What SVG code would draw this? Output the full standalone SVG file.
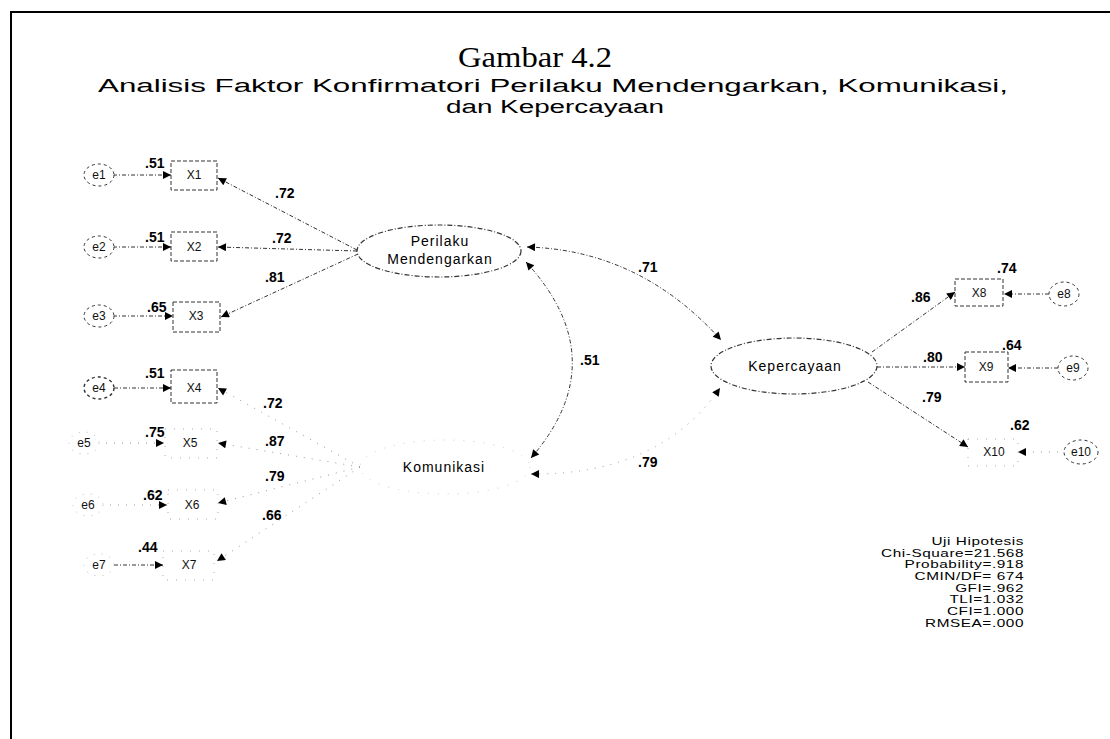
<svg xmlns="http://www.w3.org/2000/svg" width="1110" height="739" viewBox="0 0 1110 739">
  <defs>
    <marker id="ah" viewBox="0 0 10 10" refX="10" refY="5" markerWidth="11" markerHeight="8" markerUnits="userSpaceOnUse" orient="auto">
      <path d="M0,0 L10,5 L0,10 z" fill="#000"/>
    </marker>
    <marker id="ahs" viewBox="0 0 10 10" refX="10" refY="5" markerWidth="11" markerHeight="8" markerUnits="userSpaceOnUse" orient="auto-start-reverse">
      <path d="M0,0 L10,5 L0,10 z" fill="#000"/>
    </marker>
    <style>
      .frame { stroke:#000; stroke-width:2; fill:none; }
      .ln { stroke:#333; stroke-width:1; fill:none; stroke-dasharray:4 2 1 2; }
      .fl { stroke:#999; stroke-width:1; fill:none; stroke-dasharray:1 7; }
      .box { stroke:#333; stroke-width:1; fill:#fff; stroke-dasharray:4 2; }
      .fbox { stroke:#aaa; stroke-width:1; fill:#fff; stroke-dasharray:1 8; }
      .err { stroke:#333; stroke-width:1; fill:#fff; stroke-dasharray:3 3; }
      .ferr { stroke:#bbb; stroke-width:1; fill:#fff; stroke-dasharray:1 7; }
      .lat { stroke:#333; stroke-width:1.2; fill:#fff; stroke-dasharray:5 2 1 2; }
      .flat { stroke:#ccc; stroke-width:1; fill:#fff; stroke-dasharray:1 9; }
      .lbl { font-family:"Liberation Sans", Arial, sans-serif; font-size:12px; fill:#111; text-anchor:middle; }
      .wt { font-family:"Liberation Sans", Arial, sans-serif; font-size:14px; font-weight:bold; fill:#000; }
      .lv { font-family:"Liberation Sans", Arial, sans-serif; font-size:14px; fill:#000; text-anchor:middle; letter-spacing:1px; }
      .st { font-family:"Liberation Sans", Arial, sans-serif; font-size:10.8px; fill:#000; text-anchor:end; letter-spacing:0.4px; }
      .ttl { font-family:"Liberation Serif", "Times New Roman", serif; font-size:29px; fill:#000; }
      .sub { font-family:"Liberation Sans", Arial, sans-serif; font-size:18px; fill:#000; }
    </style>
  </defs>

  <rect width="1110" height="739" fill="#fff"/>

  <!-- page frame (top and left edges) -->
  <path class="frame" d="M10,12 H1110 M11,12 V739"/>

  <!-- headings -->
  <text class="ttl" x="458" y="67" textLength="154" lengthAdjust="spacingAndGlyphs">Gambar 4.2</text>
  <text class="sub" x="98" y="92" textLength="910" lengthAdjust="spacingAndGlyphs">Analisis Faktor Konfirmatori Perilaku Mendengarkan, Komunikasi,</text>
  <text class="sub" x="446" y="113" textLength="218" lengthAdjust="spacingAndGlyphs">dan Kepercayaan</text>

  <!-- connectors -->
  <g id="connectors">
    <!-- error terms to indicators -->
    <path class="ln" d="M113,175 H171" marker-end="url(#ah)"/>
    <path class="ln" d="M113,247 H171" marker-end="url(#ah)"/>
    <path class="ln" d="M113,316 H173" marker-end="url(#ah)"/>
    <path class="ln" d="M114,388 H171" marker-end="url(#ah)"/>
    <path class="fl" d="M98,443 H164" marker-end="url(#ah)"/>
    <path class="fl" d="M102,505 H167" marker-end="url(#ah)"/>
    <path class="ln" d="M114,565 H163" marker-end="url(#ah)"/>
    <path class="ln" d="M1049,294 H1004" marker-end="url(#ah)"/>
    <path class="ln" d="M1058,368 H1008" marker-end="url(#ah)"/>
    <path class="fl" d="M1066,452 H1018" marker-end="url(#ah)"/>

    <!-- Perilaku Mendengarkan loadings -->
    <path class="ln" d="M357,250 L218,178" marker-end="url(#ah)"/>
    <path class="ln" d="M357,251 L218,247" marker-end="url(#ah)"/>
    <path class="ln" d="M358,254 L221,317" marker-end="url(#ah)"/>

    <!-- Komunikasi loadings -->
    <path class="fl" d="M360,467 L218,388" marker-end="url(#ah)"/>
    <path class="fl" d="M360,467 L218,443" marker-end="url(#ah)"/>
    <path class="fl" d="M360,467 L218,503" marker-end="url(#ah)"/>
    <path class="fl" d="M360,467 L217,561" marker-end="url(#ah)"/>

    <!-- Kepercayaan loadings -->
    <path class="ln" d="M872,352 L955,292" marker-end="url(#ah)"/>
    <path class="ln" d="M877,367 H965" marker-end="url(#ah)"/>
    <path class="ln" d="M868,382 L968,447" marker-end="url(#ah)"/>

    <!-- covariances -->
    <path class="ln" d="M527,247 Q640,250 721,340" marker-start="url(#ahs)" marker-end="url(#ahs)"/>
    <path class="ln" d="M526,262 Q616,360 531,458" marker-start="url(#ahs)" marker-end="url(#ahs)"/>
    <path class="fl" d="M531,474 Q660,475 720,388" marker-start="url(#ahs)" marker-end="url(#ahs)"/>
  </g>

  <!-- error terms -->
  <g id="e1"><ellipse class="err" cx="99" cy="175" rx="15" ry="11"/><text class="lbl" x="99" y="179">e1</text></g>
  <g id="e2"><ellipse class="err" cx="99" cy="247" rx="15" ry="11"/><text class="lbl" x="99" y="251">e2</text></g>
  <g id="e3"><ellipse class="err" cx="99" cy="316" rx="15" ry="11"/><text class="lbl" x="99" y="320">e3</text></g>
  <g id="e4"><ellipse class="err" cx="99" cy="388" rx="15" ry="11" style="stroke-width:1.4"/><text class="lbl" x="99" y="392">e4</text></g>
  <g id="e5"><ellipse class="ferr" cx="84" cy="443" rx="15" ry="11"/><text class="lbl" x="84" y="447" fill="#555">e5</text></g>
  <g id="e6"><ellipse class="ferr" cx="88" cy="505" rx="15" ry="11"/><text class="lbl" x="88" y="509" fill="#555">e6</text></g>
  <g id="e7"><ellipse class="ferr" cx="99" cy="565" rx="15" ry="11"/><text class="lbl" x="99" y="569">e7</text></g>
  <g id="e8"><ellipse class="err" cx="1064" cy="294" rx="15" ry="12"/><text class="lbl" x="1064" y="298">e8</text></g>
  <g id="e9"><ellipse class="err" cx="1073" cy="368" rx="15" ry="12"/><text class="lbl" x="1073" y="372">e9</text></g>
  <g id="e10"><ellipse class="err" cx="1081" cy="452" rx="17" ry="12"/><text class="lbl" x="1081" y="456">e10</text></g>

  <!-- indicators -->
  <g id="X1"><rect class="box" x="171" y="161" width="46" height="29"/><text class="lbl" x="194" y="179">X1</text></g>
  <g id="X2"><rect class="box" x="171" y="232" width="46" height="29"/><text class="lbl" x="194" y="251">X2</text></g>
  <g id="X3"><rect class="box" x="173" y="302" width="47" height="30"/><text class="lbl" x="196" y="320">X3</text></g>
  <g id="X4"><rect class="box" x="171" y="370" width="46" height="33"/><text class="lbl" x="194" y="392">X4</text></g>
  <g id="X5"><rect class="fbox" x="165" y="429" width="52" height="29"/><text class="lbl" x="190" y="447" fill="#444">X5</text></g>
  <g id="X6"><rect class="fbox" x="168" y="490" width="50" height="29"/><text class="lbl" x="192" y="509" fill="#444">X6</text></g>
  <g id="X7"><rect class="fbox" x="163" y="551" width="51" height="29"/><text class="lbl" x="189" y="569">X7</text></g>
  <g id="X8"><rect class="box" x="955" y="279" width="48" height="27"/><text class="lbl" x="979" y="297">X8</text></g>
  <g id="X9"><rect class="box" x="965" y="352" width="43" height="30"/><text class="lbl" x="986" y="371">X9</text></g>
  <g id="X10"><rect class="fbox" x="968" y="439" width="50" height="27"/><text class="lbl" x="994" y="456">X10</text></g>

  <!-- latent variables -->
  <g id="Perilaku">
    <ellipse class="lat" cx="439" cy="251" rx="82" ry="26"/>
    <text class="lv" x="440" y="246">Perilaku</text>
    <text class="lv" x="440" y="264">Mendengarkan</text>
  </g>
  <g id="Komunikasi">
    <ellipse class="flat" cx="445" cy="467" rx="85" ry="27"/>
    <text class="lv" x="444" y="472">Komunikasi</text>
  </g>
  <g id="Kepercayaan">
    <ellipse class="lat" cx="794" cy="366" rx="83" ry="28"/>
    <text class="lv" x="795" y="371">Kepercayaan</text>
  </g>

  <!-- squared multiple correlations -->
  <g id="r2">
    <text class="wt" x="145" y="168">.51</text>
    <text class="wt" x="145" y="242">.51</text>
    <text class="wt" x="147" y="312">.65</text>
    <text class="wt" x="145" y="378">.51</text>
    <text class="wt" x="145" y="437">.75</text>
    <text class="wt" x="143" y="500">.62</text>
    <text class="wt" x="138" y="552">.44</text>
    <text class="wt" x="997" y="273">.74</text>
    <text class="wt" x="1002" y="350">.64</text>
    <text class="wt" x="1010" y="430">.62</text>
  </g>

  <!-- standardized weights and correlations -->
  <g id="weights">
    <text class="wt" x="275" y="198">.72</text>
    <text class="wt" x="272" y="243">.72</text>
    <text class="wt" x="265" y="282">.81</text>
    <text class="wt" x="263" y="408">.72</text>
    <text class="wt" x="265" y="446">.87</text>
    <text class="wt" x="265" y="481">.79</text>
    <text class="wt" x="262" y="520">.66</text>
    <text class="wt" x="638" y="272">.71</text>
    <text class="wt" x="580" y="365">.51</text>
    <text class="wt" x="638" y="467">.79</text>
    <text class="wt" x="911" y="302">.86</text>
    <text class="wt" x="923" y="362">.80</text>
    <text class="wt" x="922" y="402">.79</text>
  </g>

  <!-- fit statistics, widened horizontally about the right margin -->
  <g id="fit" transform="translate(1024,0) scale(1.42,1) translate(-1024,0)">
    <text class="st" x="1024" y="545">Uji Hipotesis</text>
    <text class="st" x="1024" y="557">Chi-Square=21.568</text>
    <text class="st" x="1024" y="568">Probability=.918</text>
    <text class="st" x="1024" y="580">CMIN/DF= 674</text>
    <text class="st" x="1024" y="592">GFI=.962</text>
    <text class="st" x="1024" y="603">TLI=1.032</text>
    <text class="st" x="1024" y="615">CFI=1.000</text>
    <text class="st" x="1024" y="627">RMSEA=.000</text>
  </g>
</svg>
